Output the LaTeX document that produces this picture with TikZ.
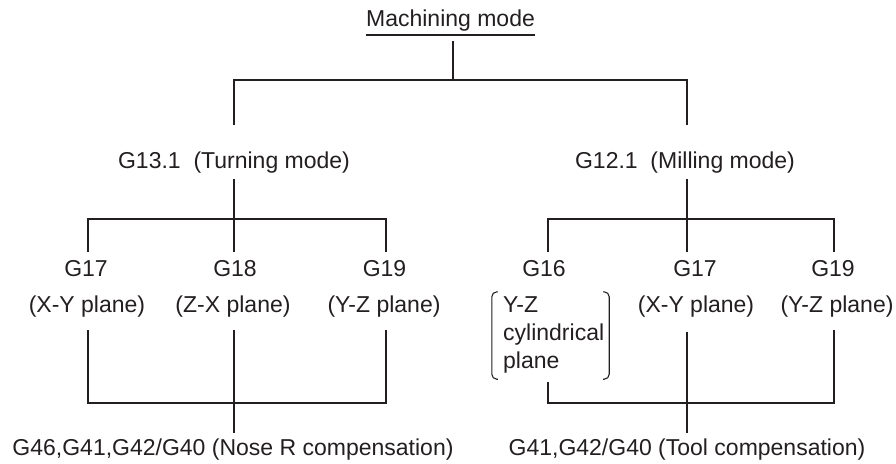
\documentclass[tikz,border=0pt]{standalone}
\usepackage{fontspec}
\setmainfont{Liberation Sans}
\definecolor{encre}{RGB}{35,31,32}
\begin{document}
\begin{tikzpicture}[x=1pt,y=-1pt]
		% Styles
		\tikzstyle{trait}=[-,line width=1.1pt,draw=encre]
		\tikzstyle{souligne}=[-,line width=1.5pt,draw=encre]
		\tikzstyle{texte}=[inner sep=0pt,anchor=base,text=encre,font=\fontsize{23}{28}\selectfont]
		\tikzstyle{ligne}=[texte,anchor=base west]
		\tikzstyle{crochet}=[trait,rounded corners=5pt]
		\useasboundingbox (0,0) rectangle (896,463);
		% Colonnes
		\def\ColA{88}
		\def\ColB{234}
		\def\ColC{386}
		\def\ColD{548}
		\def\ColE{687}
		\def\ColF{834}
		\def\ColM{453}
		% Niveaux (lignes de base)
		\def\NiveauA{27}
		\def\NiveauB{168}
		\def\NiveauC{276}
		\def\NiveauD{312}
		\def\NiveauE{455}
		% Barres
		\def\BarreA{80}
		\def\BarreB{219}
		\def\BarreC{403}
		% Noeuds
		\node[texte] (machining) at (450.5,\NiveauA) {Machining mode};
		\node[texte] (turning) at (\ColB,\NiveauB) {G13.1\ \ (Turning mode)};
		\node[texte] (milling) at (685,\NiveauB) {G12.1\ \ (Milling mode)};
		%
		\node[texte] (tG17) at (86,\NiveauC) {G17};
		\node[texte] (tG18) at (235,\NiveauC) {G18};
		\node[texte] (tG19) at (384.5,\NiveauC) {G19};
		\node[texte] (tXY) at (87,\NiveauD) {(X-Y plane)};
		\node[texte] (tZX) at (233,\NiveauD) {(Z-X plane)};
		\node[texte] (tYZ) at (384,\NiveauD) {(Y-Z plane)};
		%
		\node[texte] (mG16) at (544,\NiveauC) {G16};
		\node[texte] (mG17) at (695,\NiveauC) {G17};
		\node[texte] (mG19) at (833,\NiveauC) {G19};
		\node[ligne] (mYZ) at (503,\NiveauD) {Y-Z};
		\node[ligne] (mCyl) at (503,340) {cylindrical};
		\node[ligne] (mPlan) at (503,368) {plane};
		\node[texte] (mXY) at (696,\NiveauD) {(X-Y plane)};
		\node[texte] (mYZp) at (837,\NiveauD) {(Y-Z plane)};
		\node[minimum width=117pt,minimum height=87pt,inner sep=0pt] (boite) at (550.5,335.5) {};
		%
		\node[texte] (nose) at (233,\NiveauE) {G46,G41,G42/G40 (Nose R compensation)};
		\node[texte] (tool) at (687,\NiveauE) {G41,G42/G40 (Tool compensation)};
		% Coordonnees des traits
		\coordinate (sousTitre) at (\ColM,41);
		\coordinate (barreA) at (\ColM,\BarreA);
		\coordinate (hautTurning) at (\ColB,125);
		\coordinate (hautMilling) at (\ColE,125);
		%
		\coordinate (basTurning) at (\ColB,179);
		\coordinate (barreB) at (\ColB,\BarreB);
		\coordinate (hautTA) at (\ColA,252);
		\coordinate (hautTB) at (\ColB,252);
		\coordinate (hautTC) at (\ColC,252);
		\coordinate (basTA) at (\ColA,330);
		\coordinate (basTB) at (\ColB,330);
		\coordinate (basTC) at (\ColC,330);
		\coordinate (barreC) at (\ColB,\BarreC);
		\coordinate (hautNose) at (\ColB,433);
		%
		\coordinate (basMilling) at (\ColE,179);
		\coordinate (barreD) at (\ColE,\BarreB);
		\coordinate (hautMD) at (\ColD,252);
		\coordinate (hautME) at (\ColE,252);
		\coordinate (hautMF) at (\ColF,252);
		\coordinate (basMD) at (\ColD,382);
		\coordinate (basME) at (\ColE,332);
		\coordinate (basMF) at (\ColF,330);
		\coordinate (barreE) at (\ColE,\BarreC);
		\coordinate (hautTool) at (\ColE,433);
		% Traits
		\draw[souligne] ([yshift=-3.2pt]machining.south west) -- ([yshift=-3.2pt]machining.south east);
		\draw[trait] (sousTitre) -- (barreA);
		\draw[trait] (hautTurning) |- (barreA) -| (hautMilling);
		%
		\draw[trait] (basTurning) -- (hautTB);
		\draw[trait] (hautTA) |- (barreB) -| (hautTC);
		\draw[trait] (basTB) -- (hautNose);
		\draw[trait] (basTA) |- (barreC) -| (basTC);
		%
		\draw[trait] (basMilling) -- (hautME);
		\draw[trait] (hautMD) |- (barreD) -| (hautMF);
		\draw[trait] (basME) -- (hautTool);
		\draw[trait] (basMD) |- (barreE) -| (basMF);
		% Crochets
		\draw[crochet] ([xshift=6pt]boite.north west) -- (boite.north west) -- (boite.south west) -- ([xshift=6pt]boite.south west);
		\draw[crochet] ([xshift=-6pt]boite.north east) -- (boite.north east) -- (boite.south east) -- ([xshift=-6pt]boite.south east);
	\end{tikzpicture}
\end{document}
